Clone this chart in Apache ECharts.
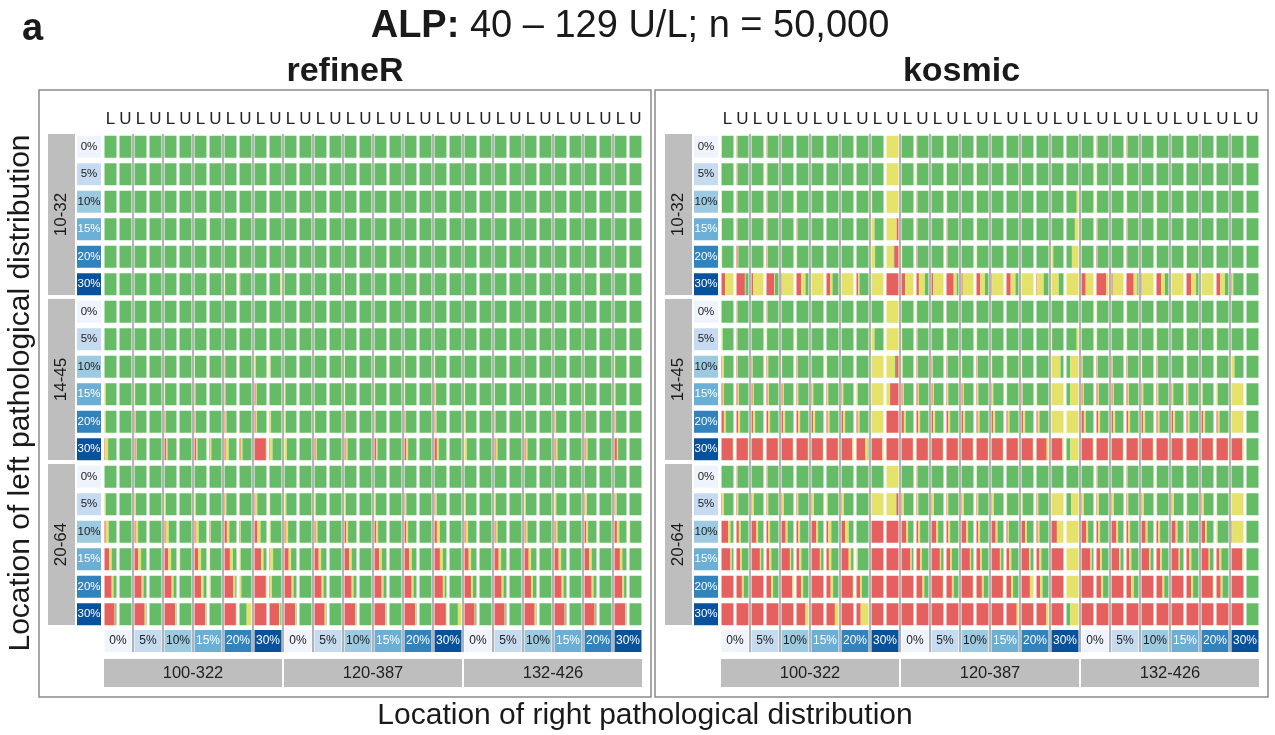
<!DOCTYPE html>
<html>
<head>
<meta charset="utf-8">
<script src="https://cdn.jsdelivr.net/npm/echarts@6/dist/echarts.min.js"></script>
<style>
  html, body { margin: 0; padding: 0; background: #ffffff; }
  #chart { width: 1275px; height: 735px; }
</style>
</head>
<body>
<div id="chart"></div>
<script>
// ---- labels ----
const panelNames = ['refineR', 'kosmic'];
const rowGroups = ['10-32', '14-45', '20-64'];          // left pathological location
const colGroups = ['100-322', '120-387', '132-426'];    // right pathological location
const pctLevels = ['0%', '5%', '10%', '15%', '20%', '30%'];
const limitLabels = ['L', 'U'];

// ---- share of estimates per cell (percent): rows = 3 left groups x 6 levels,
//      columns = 3 right groups x 6 levels x (L, U) ----
// too-low red, too-low yellow (drawn left of the green part)
const refRed = [
  [0,0,0,0,0,0,0,0,0,0,0,0, 0,0,0,0,0,0,0,0,0,0,0,0, 0,0,0,0,0,0,0,0,0,0,0,0],
  [0,0,0,0,0,0,0,0,0,0,0,0, 0,0,0,0,0,0,0,0,0,0,0,0, 0,0,0,0,0,0,0,0,0,0,0,0],
  [0,0,0,0,0,0,0,0,0,0,0,0, 0,0,0,0,0,0,0,0,0,0,0,0, 0,0,0,0,0,0,0,0,0,0,0,0],
  [0,0,0,0,0,0,0,0,0,0,0,0, 0,0,0,0,0,0,0,0,0,0,0,0, 0,0,0,0,0,0,0,0,0,0,0,0],
  [0,0,0,0,0,0,0,0,0,3,0,0, 0,0,0,0,0,0,0,0,0,0,0,0, 0,0,0,0,0,0,0,0,0,0,0,0],
  [0,0,0,0,0,0,0,0,0,3,0,0, 0,0,0,0,0,0,0,0,0,3,0,0, 0,0,0,0,0,0,0,0,0,0,0,0],
  [0,0,0,0,0,0,0,0,0,0,0,0, 0,0,0,0,0,0,0,0,0,0,0,0, 0,0,0,0,0,0,0,0,0,0,0,0],
  [0,0,0,0,0,0,0,0,0,0,0,0, 0,0,0,0,0,0,0,0,0,0,0,0, 0,0,0,0,0,0,0,0,0,0,0,0],
  [0,0,0,0,3,0,0,3,3,3,0,0, 0,0,0,0,0,0,0,0,0,0,0,0, 0,0,0,0,0,0,0,0,0,0,0,0],
  [0,0,0,0,0,0,3,0,3,0,10,0, 0,0,0,0,0,0,0,0,0,0,5,0, 0,0,0,0,0,0,0,0,0,0,0,0],
  [0,0,5,0,5,0,5,0,8,3,10,3, 0,0,0,0,5,0,3,0,5,0,8,0, 0,0,3,0,0,0,5,0,5,0,8,0],
  [5,0,10,0,15,3,15,5,10,10,95,5, 0,0,10,0,10,0,15,0,15,0,20,0, 0,0,10,0,10,0,10,0,10,0,20,0],
  [0,0,0,0,0,0,0,0,0,0,0,0, 0,0,0,0,0,0,0,0,0,0,0,0, 0,0,0,0,0,0,0,0,0,0,0,0],
  [0,0,3,0,0,0,0,0,5,3,8,0, 0,0,0,0,0,0,0,0,5,0,8,0, 0,0,0,0,0,0,0,0,5,0,8,0],
  [10,0,10,0,10,0,10,5,20,5,25,0, 10,0,10,0,15,0,15,0,15,0,20,0, 10,0,10,0,10,0,10,0,15,0,20,0],
  [40,0,30,0,30,0,30,0,45,0,55,5, 35,0,35,0,40,0,40,0,40,0,45,0, 35,0,35,0,35,0,35,0,40,0,45,0],
  [60,0,60,0,60,0,55,0,75,0,95,5, 60,0,60,0,60,0,60,0,60,0,70,0, 55,0,60,0,55,0,60,0,60,0,65,0],
  [85,0,85,0,90,0,90,0,95,0,100,80, 90,0,85,0,90,0,90,0,90,0,95,0, 85,0,85,0,85,0,85,0,85,0,90,0]
];
const refYel = [
  [0,0,0,0,0,0,0,0,0,0,0,0, 0,0,0,0,0,0,0,0,0,0,0,0, 0,0,0,0,0,0,0,0,0,0,0,0],
  [0,0,0,0,0,0,0,0,0,0,0,0, 0,0,0,0,0,0,0,0,0,0,0,0, 0,0,0,0,0,0,0,0,0,0,0,0],
  [0,0,0,0,0,0,0,0,0,0,0,0, 0,0,0,0,0,0,0,0,0,0,0,0, 0,0,0,0,0,0,0,0,0,0,0,0],
  [0,0,0,0,0,0,0,3,0,3,0,0, 0,0,0,0,0,0,0,0,0,0,0,0, 0,0,0,0,0,0,0,0,0,0,0,0],
  [0,0,0,0,0,0,0,0,0,0,0,0, 0,0,0,0,0,0,0,0,0,0,0,0, 0,0,0,0,0,0,0,0,0,0,0,0],
  [0,0,0,0,0,0,0,0,5,3,0,0, 0,0,0,0,3,0,0,0,0,0,0,0, 0,0,0,0,0,0,0,0,0,3,0,0],
  [0,0,0,0,0,0,0,0,0,0,0,0, 0,0,0,0,0,0,0,0,0,0,0,0, 0,0,0,0,0,0,0,0,0,0,0,0],
  [0,0,0,0,0,0,0,0,0,0,0,0, 0,0,0,0,0,0,0,0,0,0,0,0, 0,0,0,0,0,0,0,0,0,0,0,0],
  [0,0,0,0,0,0,3,0,3,0,10,10, 0,0,0,0,3,0,3,0,5,0,5,0, 0,0,0,0,0,0,0,0,0,0,5,0],
  [10,0,5,0,5,0,5,0,5,0,8,0, 8,0,0,0,5,0,5,0,5,0,8,0, 5,0,3,0,3,0,3,0,5,0,8,0],
  [10,0,5,0,5,0,5,0,8,0,10,10, 10,0,5,0,5,0,5,0,5,0,8,0, 10,0,5,0,8,0,8,0,5,0,5,0],
  [25,0,8,0,10,0,10,10,25,15,5,20, 20,0,10,0,15,0,10,0,15,0,15,0, 20,0,15,0,15,0,15,0,15,0,10,0],
  [0,0,0,0,0,0,0,0,0,0,0,0, 0,0,0,0,0,0,0,0,0,0,0,0, 0,0,0,0,0,0,0,0,0,0,0,0],
  [10,0,8,0,10,0,10,0,10,0,15,5, 15,0,10,0,10,0,10,0,10,0,10,0, 10,0,10,0,10,0,15,0,15,0,10,0],
  [25,0,20,0,25,0,25,5,20,5,25,10, 20,0,15,0,15,0,15,0,15,0,25,0, 20,0,15,0,15,0,15,0,15,0,20,5],
  [20,0,25,0,25,5,25,5,25,10,20,25, 20,0,20,0,20,0,20,0,20,0,25,0, 20,0,20,0,20,0,20,0,20,0,20,0],
  [15,0,15,0,15,0,20,10,15,15,5,15, 15,0,15,0,15,0,15,0,15,0,15,0, 15,0,15,0,15,0,15,0,15,0,15,0],
  [5,0,10,0,5,0,5,0,5,0,0,10, 5,0,10,0,5,0,5,0,5,0,5,0, 5,0,5,0,10,0,5,0,5,0,5,0]
];
// too-high side (drawn right of the green part): [row, column, yellow, red]
const refHigh = [[5, 11, 10, 0], [17, 9, 40, 0], [17, 23, 30, 0]];

const kosRed = [
  [0,3,0,3,0,0,0,0,0,0,0,0, 0,3,0,0,0,3,0,0,0,0,0,0, 0,3,0,3,0,0,0,0,0,0,0,0],
  [0,3,0,0,0,0,0,0,0,0,0,0, 0,0,0,0,0,0,0,0,0,0,0,0, 0,0,0,0,0,0,0,0,0,0,0,0],
  [0,3,0,3,0,0,0,0,0,0,0,0, 0,3,0,0,0,0,0,0,0,0,0,0, 0,0,0,0,0,0,0,0,0,0,0,0],
  [0,3,0,3,0,3,0,0,0,0,0,0, 0,3,0,3,0,0,0,0,0,0,0,0, 0,3,0,3,0,0,0,0,0,0,0,0],
  [0,10,0,5,0,0,0,0,0,0,0,0, 0,5,0,3,0,0,0,0,0,0,0,0, 0,5,0,3,0,0,0,0,0,0,0,0],
  [30,70,15,65,5,40,0,30,0,15,0,100, 30,20,15,60,10,30,5,35,0,5,0,0, 35,80,10,60,5,40,0,40,0,30,5,0],
  [0,3,0,3,0,0,0,0,0,0,0,0, 0,0,0,3,0,3,0,0,0,0,0,0, 0,0,0,0,0,3,0,0,0,0,0,0],
  [0,3,0,0,0,0,0,0,0,0,0,0, 0,3,0,0,0,0,0,0,0,0,0,0, 0,0,0,0,0,0,0,0,0,0,0,0],
  [5,5,5,5,0,5,0,0,0,0,0,0, 0,5,5,5,0,5,0,0,0,0,0,0, 5,5,5,5,0,5,0,0,0,0,0,0],
  [10,10,10,10,10,5,5,5,5,0,0,0, 10,10,10,5,10,5,5,0,5,0,0,0, 10,10,10,10,5,5,5,5,0,0,0,0],
  [20,15,15,15,15,15,15,10,15,10,0,100, 20,15,15,15,15,10,15,10,15,10,0,0, 20,15,15,15,15,10,15,10,15,10,0,0],
  [95,95,95,95,95,95,95,95,90,75,90,100, 95,95,95,95,95,95,95,95,95,85,90,0, 95,95,95,95,95,95,95,95,95,95,90,0],
  [0,3,0,3,0,0,0,0,0,0,0,0, 0,3,0,3,0,0,0,0,0,0,0,0, 0,3,0,3,0,0,0,0,0,0,0,0],
  [5,5,5,5,5,5,5,0,5,0,0,0, 5,5,5,5,5,5,5,0,0,5,0,0, 5,5,5,5,5,0,5,0,5,0,0,0],
  [55,20,40,15,35,15,40,15,30,0,100,100, 40,15,40,15,40,15,35,10,30,10,45,0, 40,15,40,15,35,15,35,10,30,0,5,0],
  [75,30,70,25,70,25,70,20,60,0,100,100, 75,30,70,30,70,30,70,25,65,25,100,0, 75,30,65,25,65,30,60,25,60,25,90,0],
  [100,45,100,40,90,40,100,35,95,30,100,100, 100,50,95,45,95,45,95,40,70,30,100,0, 100,40,100,40,100,50,100,40,95,35,100,0],
  [100,100,100,100,100,75,100,70,100,35,100,100, 100,100,100,100,100,100,100,85,100,80,100,0, 100,100,100,100,100,100,100,100,100,100,100,0]
];
const kosYel = [
  [2,5,0,5,0,0,0,0,0,0,0,100, 0,3,0,3,0,0,0,0,0,0,0,0, 0,5,0,5,0,3,0,0,0,0,0,0],
  [0,5,0,8,0,0,0,0,0,0,0,100, 0,5,0,3,0,3,0,0,3,0,0,0, 0,5,0,5,0,0,0,0,0,0,0,0],
  [3,5,0,5,0,5,0,0,0,0,5,100, 0,5,0,5,0,3,0,0,0,0,0,0, 0,5,0,5,0,5,0,0,0,0,0,0],
  [3,5,0,5,0,5,0,0,0,0,25,85, 0,5,0,5,0,5,0,0,0,0,0,0, 0,5,0,5,0,5,0,0,0,0,0,0],
  [5,5,0,5,0,5,0,0,0,0,30,60, 5,3,0,5,0,5,0,0,0,0,15,0, 0,3,0,3,0,3,0,3,0,0,0,0],
  [70,5,85,5,95,35,100,20,100,10,100,0, 70,50,85,25,90,40,95,40,100,55,60,100, 65,20,90,30,95,30,100,40,100,40,10,0],
  [0,5,0,5,0,0,0,0,0,0,0,100, 0,5,0,0,0,0,0,0,0,0,0,0, 0,5,0,5,0,0,0,0,0,0,0,0],
  [10,5,0,5,0,5,0,0,0,0,25,100, 5,5,0,5,0,5,0,0,0,0,5,0, 0,5,0,5,0,5,0,3,0,5,0,0],
  [15,5,5,10,5,5,0,5,0,0,100,70, 10,5,5,5,5,5,5,5,5,0,75,0, 5,5,5,5,5,5,0,5,0,5,25,0],
  [10,10,10,10,10,10,10,10,10,10,100,30, 10,10,10,10,10,10,10,5,5,5,100,0, 10,10,10,10,10,10,10,10,10,10,100,0],
  [15,15,15,15,15,15,15,15,15,15,100,0, 15,15,15,15,15,15,15,15,15,15,100,100, 15,15,15,15,15,15,15,15,15,15,100,0],
  [5,5,5,5,5,5,5,5,10,20,10,0, 5,5,5,5,5,5,5,5,5,15,10,0, 5,5,5,5,5,5,5,5,5,5,10,0],
  [0,5,0,5,0,0,0,0,0,0,0,100, 0,5,0,0,0,3,0,0,0,0,0,0, 0,5,0,5,0,3,0,0,0,0,0,0],
  [15,10,15,10,15,10,15,10,15,0,100,80, 15,10,15,10,15,10,15,5,10,10,100,0, 15,15,15,10,15,5,15,5,15,5,100,0],
  [20,15,15,15,15,15,15,25,30,0,0,0, 15,15,15,15,15,15,15,10,15,15,55,100, 15,15,15,15,15,15,15,10,15,10,95,0],
  [10,15,10,15,10,15,10,20,20,10,0,0, 10,15,10,15,10,15,10,15,10,15,0,100, 10,15,10,15,10,15,10,15,10,15,10,0],
  [0,15,0,15,10,15,0,20,5,15,0,0, 0,15,5,15,5,15,5,15,30,20,0,100, 0,15,0,20,0,15,0,15,5,15,0,0],
  [0,0,0,0,0,25,0,30,0,65,0,0, 0,0,0,0,0,0,0,15,0,20,0,0, 0,0,0,0,0,0,0,0,0,0,0,0]
];
const kosHigh = [
  [2, 23, 15, 0], [3, 11, 0, 15], [3, 23, 30, 0], [4, 11, 0, 35], [4, 23, 55, 0],
  [7, 23, 15, 0], [8, 11, 0, 20], [8, 23, 70, 0], [9, 11, 0, 70], [9, 23, 70, 0],
  [11, 23, 70, 0], [13, 11, 0, 15], [13, 23, 60, 0], [17, 23, 70, 0]
];

// ---- layout & style ----
const FONT = '"Liberation Sans", Arial, Helvetica, sans-serif';
const N_COLS = 36, N_ROWS = 18;
const CELL_W = 15, ROW_H = 27.5;
const GRID_LEFT = [103, 720];
const GRID_TOP = 133;
const BOXES = [{ x: 39, y: 90, w: 612, h: 607 }, { x: 655, y: 90, w: 613, h: 607 }];
const PAD_X = 0.1, PAD_Y = 0.1;
const RED = '#e5615f', YELLOW = '#e4e26b', GREEN = '#66bb66';
const SEG_COLORS = [RED, YELLOW, GREEN, YELLOW, RED];
const PCT_FILL = ['#eef3fc', '#c6dbef', '#9ecae1', '#6baed6', '#3182bd', '#08519c'];
const PCT_TEXT = ['#222', '#222', '#222', '#ffffff', '#ffffff', '#ffffff'];
const STRIP = '#bebebe';
const SEP = '#9a9a9a';

// split each cell into red/yellow/green/yellow/red pieces along the cell width
function buildCells(red, yel, high) {
  const hi = {};
  high.forEach(([r, c, y, rd]) => { hi[r + '_' + c] = [y, rd]; });
  const out = [];
  for (let r = 0; r < N_ROWS; r++) {
    for (let c = 0; c < N_COLS; c++) {
      const h = hi[r + '_' + c] || [0, 0];
      const segs = [red[r][c], yel[r][c], 0, h[0], h[1]];
      segs[2] = Math.max(0, 100 - segs[0] - segs[1] - segs[3] - segs[4]);
      const total = segs.reduce((a, b) => a + b, 0);
      let acc = 0;
      segs.forEach((v, k) => {
        if (v > 0) {
          out.push([c, r, acc / total * 100, (acc + v) / total * 100, k]);
          acc += v;
        }
      });
    }
  }
  return out;
}

function renderCell(params, api) {
  const c = api.value(0), r = api.value(1), s = api.value(2), e = api.value(3), k = api.value(4);
  const w = 1 - 2 * PAD_X;
  const p0 = api.coord([c + PAD_X + w * s / 100, r + PAD_Y]);
  const p1 = api.coord([c + PAD_X + w * e / 100, r + 1 - PAD_Y]);
  return {
    type: 'rect',
    shape: { x: p0[0], y: p0[1], width: p1[0] - p0[0], height: p1[1] - p0[1] },
    style: { fill: SEG_COLORS[k] }
  };
}

function txt(x, y, str, size, opts) {
  opts = opts || {};
  return {
    type: 'text', x: x, y: y, rotation: opts.rotation || 0, silent: true, z: 10,
    style: {
      text: str, x: 0, y: 0,
      font: (opts.weight || 'normal') + ' ' + size + 'px ' + FONT,
      fill: opts.color || '#1a1a1a',
      align: opts.align || 'center', textAlign: opts.align || 'center',
      verticalAlign: 'middle', textVerticalAlign: 'middle',
      rich: opts.rich
    }
  };
}
function rect(x, y, w, h, fill, stroke, lw) {
  return {
    type: 'rect', silent: true, z: 1,
    shape: { x: x, y: y, width: w, height: h },
    style: { fill: fill || 'none', stroke: stroke || 'none', lineWidth: lw || 0 }
  };
}

const graphics = [];
// headline
graphics.push(txt(22, 30, 'a', 38, { weight: 'bold', align: 'left' }));
graphics.push(txt(630, 27, '{b|ALP:} 40 – 129 U/L; n = 50,000', 38, {
  rich: { b: { fontWeight: 'bold', fontSize: 38, fontFamily: FONT } }
}));
// axis titles
graphics.push(txt(645, 716, 'Location of right pathological distribution', 30));
graphics.push(txt(21, 393, 'Location of left pathological distribution', 30, { rotation: Math.PI / 2 }));

for (let p = 0; p < 2; p++) {
  const L = GRID_LEFT[p];
  const B = BOXES[p];
  graphics.push(rect(B.x, B.y, B.w, B.h, 'none', '#8a8a8a', 1.5));
  graphics.push(txt(B.x + B.w / 2, 72, panelNames[p], 34, { weight: 'bold' }));
  // L / U column labels
  for (let c = 0; c < N_COLS; c++) {
    graphics.push(txt(L + (c + 0.5) * CELL_W, 119, limitLabels[c % 2], 17, { color: '#222' }));
  }
  // left strips: location group + level boxes
  for (let g = 0; g < rowGroups.length; g++) {
    const y0 = GRID_TOP + g * 6 * ROW_H;
    graphics.push(rect(L - 55, y0 + 1, 27, 6 * ROW_H - 4, STRIP));
    graphics.push(txt(L - 41.5, y0 + 3 * ROW_H - 1, rowGroups[g], 17, { rotation: Math.PI / 2 }));
    for (let i = 0; i < pctLevels.length; i++) {
      const yy = y0 + i * ROW_H + ROW_H * PAD_Y;
      graphics.push(rect(L - 26, yy, 24, ROW_H * (1 - 2 * PAD_Y), PCT_FILL[i]));
      graphics.push(txt(L - 14, yy + ROW_H * (1 - 2 * PAD_Y) / 2, pctLevels[i], 11.5, { color: PCT_TEXT[i] }));
    }
  }
  // bottom strips: level boxes + location group
  const yb = GRID_TOP + N_ROWS * ROW_H;
  for (let k = 0; k < 18; k++) {
    const i = k % 6;
    const x0 = L + k * 2 * CELL_W;
    graphics.push(rect(x0 + 1.5, yb + 2, 2 * CELL_W - 3, 22, PCT_FILL[i]));
    graphics.push(txt(x0 + CELL_W, yb + 13, pctLevels[i], 12, { color: PCT_TEXT[i] }));
  }
  for (let g = 0; g < colGroups.length; g++) {
    const x0 = L + g * 12 * CELL_W;
    graphics.push(rect(x0 + 1, yb + 31, 12 * CELL_W - 2, 28, STRIP));
    graphics.push(txt(x0 + 6 * CELL_W, yb + 45, colGroups[g], 16.5, { color: '#222' }));
  }
  // separators between level pairs
  for (let k = 1; k < 18; k++) {
    const x = L + k * 2 * CELL_W;
    graphics.push({
      type: 'line', silent: true, z: 5,
      shape: { x1: x, y1: GRID_TOP + 1, x2: x, y2: yb + 24 },
      style: { stroke: SEP, lineWidth: 1.5 }
    });
  }
}

const cellData = [buildCells(refRed, refYel, refHigh), buildCells(kosRed, kosYel, kosHigh)];

const chart = echarts.init(document.getElementById('chart'), null, { renderer: 'canvas' });
chart.setOption({
  backgroundColor: '#ffffff',
  animation: false,
  grid: GRID_LEFT.map(l => ({ left: l, top: GRID_TOP, width: N_COLS * CELL_W, height: N_ROWS * ROW_H, containLabel: false })),
  xAxis: [0, 1].map(p => ({ gridIndex: p, type: 'value', min: 0, max: N_COLS, show: false })),
  yAxis: [0, 1].map(p => ({ gridIndex: p, type: 'value', min: 0, max: N_ROWS, inverse: true, show: false })),
  series: [0, 1].map(p => ({
    type: 'custom',
    name: panelNames[p],
    xAxisIndex: p,
    yAxisIndex: p,
    silent: true,
    renderItem: renderCell,
    data: cellData[p],
    z: 3
  })),
  graphic: { elements: graphics }
});
</script>
</body>
</html>
